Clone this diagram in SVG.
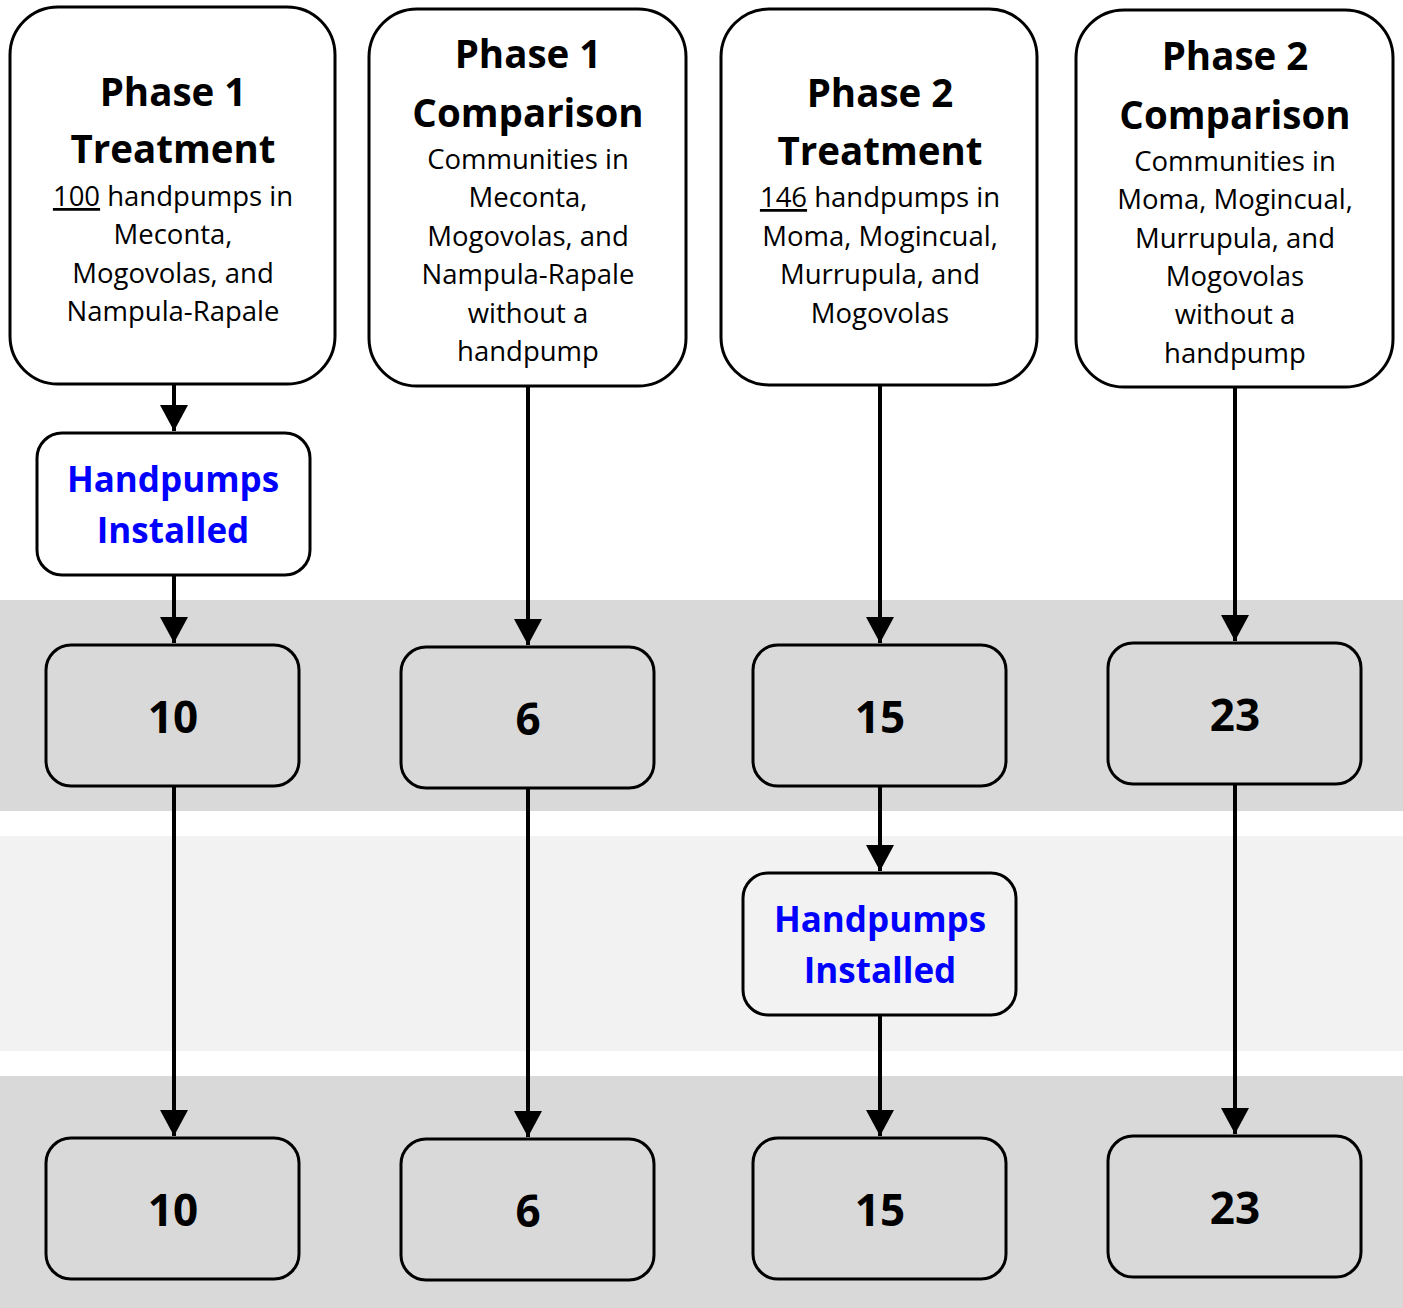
<svg xmlns="http://www.w3.org/2000/svg" width="1403" height="1308" viewBox="0 0 1403 1308">
<defs>
<marker id="ah" markerWidth="7" markerHeight="7" refX="6.5" refY="3.5" orient="auto" markerUnits="strokeWidth">
<path d="M0,0 L6.5,3.5 L0,7 Z" fill="#000"/>
</marker>
<style>
.box{stroke:#000;stroke-width:3}
.top{fill:#fff}
.num{fill:#d9d9d9}
.t{font-family:"Open Sans","Noto Sans",sans-serif;text-anchor:middle;fill:#000}
.title{font-size:38.5px;font-weight:bold}
.body{font-size:27.5px}
.big{font-size:44px;font-weight:bold}
.blue{font-size:35px;font-weight:bold;fill:#0000ff}
.conn line{stroke:#000;stroke-width:4;marker-end:url(#ah)}
</style>
</defs>
<rect x="0" y="0" width="1403" height="1308" fill="#fff"/>
<rect x="0" y="600" width="1403" height="211" fill="#d9d9d9"/>
<rect x="0" y="836" width="1403" height="215" fill="#f2f2f2"/>
<rect x="0" y="1076" width="1403" height="232" fill="#d9d9d9"/>

<g id="p1t">
<rect class="box top" x="10" y="7" width="325" height="377" rx="48"/>
<text class="t title" x="173" y="106">Phase 1</text>
<text class="t title" x="173" y="163">Treatment</text>
<text class="t body" x="173" y="206"><tspan text-decoration="underline">100</tspan> handpumps in</text>
<text class="t body" x="173" y="244">Meconta,</text>
<text class="t body" x="173" y="283">Mogovolas, and</text>
<text class="t body" x="173" y="321">Nampula-Rapale</text>
</g>
<g id="p1c">
<rect class="box top" x="369" y="9" width="317" height="377" rx="48"/>
<text class="t title" x="528" y="68">Phase 1</text>
<text class="t title" x="528" y="127">Comparison</text>
<text class="t body" x="528" y="169">Communities in</text>
<text class="t body" x="528" y="207">Meconta,</text>
<text class="t body" x="528" y="246">Mogovolas, and</text>
<text class="t body" x="528" y="284">Nampula-Rapale</text>
<text class="t body" x="528" y="323">without a</text>
<text class="t body" x="528" y="361">handpump</text>
</g>
<g id="p2t">
<rect class="box top" x="721" y="9" width="316" height="376" rx="48"/>
<text class="t title" x="880" y="107">Phase 2</text>
<text class="t title" x="880" y="165">Treatment</text>
<text class="t body" x="880" y="207"><tspan text-decoration="underline">146</tspan> handpumps in</text>
<text class="t body" x="880" y="246">Moma, Mogincual,</text>
<text class="t body" x="880" y="284">Murrupula, and</text>
<text class="t body" x="880" y="323">Mogovolas</text>
</g>
<g id="p2c">
<rect class="box top" x="1076" y="10" width="317" height="377" rx="48"/>
<text class="t title" x="1235" y="70">Phase 2</text>
<text class="t title" x="1235" y="129">Comparison</text>
<text class="t body" x="1235" y="171">Communities in</text>
<text class="t body" x="1235" y="209">Moma, Mogincual,</text>
<text class="t body" x="1235" y="248">Murrupula, and</text>
<text class="t body" x="1235" y="286">Mogovolas</text>
<text class="t body" x="1235" y="324">without a</text>
<text class="t body" x="1235" y="363">handpump</text>
</g>
<g id="hi1">
<rect class="box" fill="#fff" x="37" y="433" width="273" height="142" rx="25"/>
<text class="t blue" x="173" y="492">Handpumps</text>
<text class="t blue" x="173" y="543">Installed</text>
</g>
<g id="hi2">
<rect class="box" fill="#f2f2f2" x="743" y="873" width="273" height="142" rx="25"/>
<text class="t blue" x="880" y="932">Handpumps</text>
<text class="t blue" x="880" y="983">Installed</text>
</g>
<g id="n1a"><rect class="box num" x="46" y="645" width="253" height="141" rx="25"/><text class="t big" x="173" y="733">10</text></g>
<g id="n2a"><rect class="box num" x="401" y="647" width="253" height="141" rx="25"/><text class="t big" x="528" y="735">6</text></g>
<g id="n3a"><rect class="box num" x="753" y="645" width="253" height="141" rx="25"/><text class="t big" x="880" y="733">15</text></g>
<g id="n4a"><rect class="box num" x="1108" y="643" width="253" height="141" rx="25"/><text class="t big" x="1235" y="731">23</text></g>
<g id="n1b"><rect class="box num" x="46" y="1138" width="253" height="141" rx="25"/><text class="t big" x="173" y="1226">10</text></g>
<g id="n2b"><rect class="box num" x="401" y="1139" width="253" height="141" rx="25"/><text class="t big" x="528" y="1227">6</text></g>
<g id="n3b"><rect class="box num" x="753" y="1138" width="253" height="141" rx="25"/><text class="t big" x="880" y="1226">15</text></g>
<g id="n4b"><rect class="box num" x="1108" y="1136" width="253" height="141" rx="25"/><text class="t big" x="1235" y="1224">23</text></g>

<g id="connectors" class="conn">
<line x1="174" y1="385" x2="174" y2="431"/>
<line x1="174" y1="576" x2="174" y2="643"/>
<line x1="174" y1="787" x2="174" y2="1136"/>
<line x1="528" y1="387" x2="528" y2="645"/>
<line x1="528" y1="789" x2="528" y2="1137"/>
<line x1="880" y1="386" x2="880" y2="643"/>
<line x1="880" y1="787" x2="880" y2="871"/>
<line x1="880" y1="1016" x2="880" y2="1136"/>
<line x1="1235" y1="388" x2="1235" y2="641"/>
<line x1="1235" y1="785" x2="1235" y2="1134"/>
</g>
</svg>
